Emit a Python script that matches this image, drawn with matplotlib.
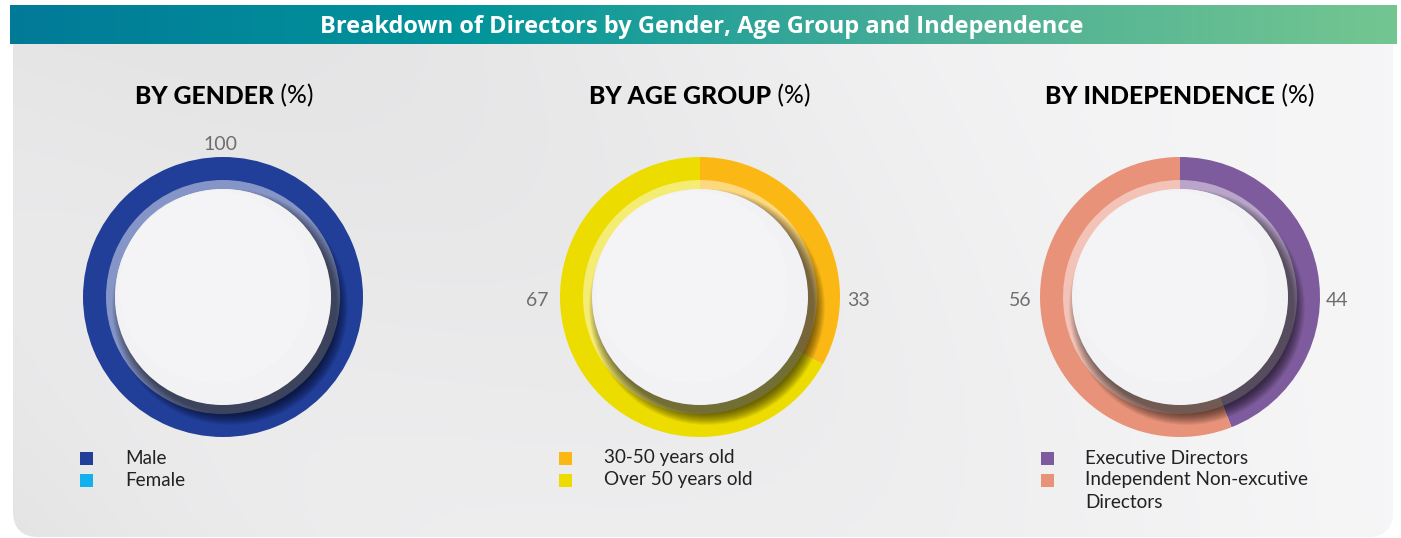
import numpy as np
import matplotlib
matplotlib.use("Agg")
import matplotlib.pyplot as plt
from matplotlib.patches import Circle, FancyBboxPatch, Rectangle
from matplotlib.colors import to_rgb, LinearSegmentedColormap

# ---------------- data ----------------
title = "Breakdown of Directors by Gender, Age Group and Independence"

gender_labels = ["Male", "Female"]
gender_values = [100, 0]
gender_colors = ["#213E99", "#12B0EC"]

age_labels = ["30-50 years old", "Over 50 years old"]
age_values = [33, 67]
age_colors = ["#FBB814", "#ECDC00"]

indep_labels = ["Executive Directors", "Independent Non-excutive\nDirectors"]
indep_values = [44, 56]
indep_colors = ["#7E5B9C", "#E8927A"]

panel_titles = ["BY GENDER", "BY AGE GROUP", "BY INDEPENDENCE"]

W, H = 1401, 538
FONT = "Lato"

fig = plt.figure(figsize=(W / 100, H / 100), dpi=100)
ax = fig.add_axes([0, 0, 1, 1])


def Y(y):
    return H - y


# ---------------- background panel ----------------
panel = FancyBboxPatch((13, Y(537)), 1380, 520, boxstyle="round,pad=0,rounding_size=26",
                       fc="#EFEFF1", ec="none", zorder=0)
ax.add_patch(panel)
gx = np.linspace(0, 1, 300)
gy = np.linspace(0, 1, 120)
GX, GY = np.meshgrid(gx, gy)
shade = 0.895 + 0.07 * GX + 0.02 * np.sin(GX * 6 + GY * 3) * (1 - GX)
img = np.dstack([shade, shade, shade * 1.005])
img = np.clip(img, 0, 1)
im = ax.imshow(img, extent=(13, 1393, Y(537), Y(30)), origin="lower", zorder=0.5,
               aspect="auto", interpolation="bilinear")
im.set_clip_path(panel)

# ---------------- title bar ----------------
bar_cmap = LinearSegmentedColormap.from_list("bar", ["#017A98", "#02959B", "#4AAE97", "#73C690"])
grad = np.linspace(0, 1, 512)[None, :]
ax.imshow(grad, extent=(10, 1397, Y(44), Y(5)), cmap=bar_cmap, aspect="auto", zorder=2,
          origin="lower")
ax.text(702, Y(27), title, color="white", fontsize=17, fontweight="bold", family="Open Sans",
        ha="center", va="center", zorder=3)


# ---------------- donuts ----------------
def lighten(c, f):
    r, g, b = to_rgb(c)
    return (r + (1 - r) * f, g + (1 - g) * f, b + (1 - b) * f)


def donut(cx, cy, values, colors, labels_pos):
    c = (cx, Y(cy))
    R = 140
    ax.pie(values, colors=colors, startangle=90, counterclock=False, center=c, radius=R,
           wedgeprops=dict(width=24, linewidth=0), frame=True)
    ax.pie(values, colors=[lighten(col, 0.45) for col in colors], startangle=90,
           counterclock=False, center=c, radius=117, wedgeprops=dict(width=9, linewidth=0),
           frame=True)
    # shadow of the inner disc (bottom-right)
    n = 16
    for i in range(n):
        rr = 106 + 12 * (1 - i / n)
        ax.add_patch(Circle((cx + 7, Y(cy) - 10), rr, fc="black", ec="none",
                            alpha=0.045, zorder=5))
    ax.add_patch(Circle(c, 108, fc="#F2F2F4", ec="none", zorder=6))
    ax.add_patch(Circle((cx - 8, Y(cy) + 10), 96, fc="#F6F6F8", ec="none", zorder=6.1,
                        alpha=0.7))
    for (tx, ty, txt) in labels_pos:
        ax.text(tx, Y(ty), txt, fontsize=14, color="#6E6E6E", family=FONT,
                ha="center", va="center", zorder=7)


donut(223, 297, gender_values, gender_colors, [(220, 144, str(gender_values[0]))])
donut(700, 297, age_values, age_colors,
      [(859, 300, str(age_values[0])), (537, 300, str(age_values[1]))])
donut(1180, 297, indep_values, indep_colors,
      [(1337, 300, str(indep_values[0])), (1020, 300, str(indep_values[1]))])

# ---------------- panel titles ----------------
for cx, t in zip([224, 700, 1180], panel_titles):
    tb = ax.text(0, 0, t, fontsize=17.8, fontweight="black", family=FONT)
    tp = ax.text(0, 0, " (%)", fontsize=17.8, family=FONT)
    fig.canvas.draw()
    r = fig.canvas.get_renderer()
    w1 = tb.get_window_extent(r).width
    w2 = tp.get_window_extent(r).width
    x0 = cx - (w1 + w2) / 2
    tb.set_position((x0, Y(96)))
    tb.set_va("center")
    tp.set_position((x0 + w1, Y(96)))
    tp.set_va("center")
    tb.set_zorder(8)
    tp.set_zorder(8)


# ---------------- legends ----------------
def legend(xs, xt, labels, colors):
    y = 458
    for lab, col in zip(labels, colors):
        ax.add_patch(Rectangle((xs - 6.5, Y(y) - 6.5), 13, 13, fc=col, ec="none", zorder=8))
        for k, line in enumerate(lab.split("\n")):
            ax.text(xt, Y(y + 22 * k), line, fontsize=13.6, color="#222222", family=FONT,
                    ha="left", va="center", zorder=8)
        y += 22


legend(86, 125, gender_labels, gender_colors)
legend(565, 604, age_labels, age_colors)
legend(1047, 1085, indep_labels, indep_colors)

ax.set_xlim(0, W)
ax.set_ylim(0, H)
ax.set_aspect("equal")
ax.axis("off")
fig.savefig("out.png", dpi=100, facecolor="white")
